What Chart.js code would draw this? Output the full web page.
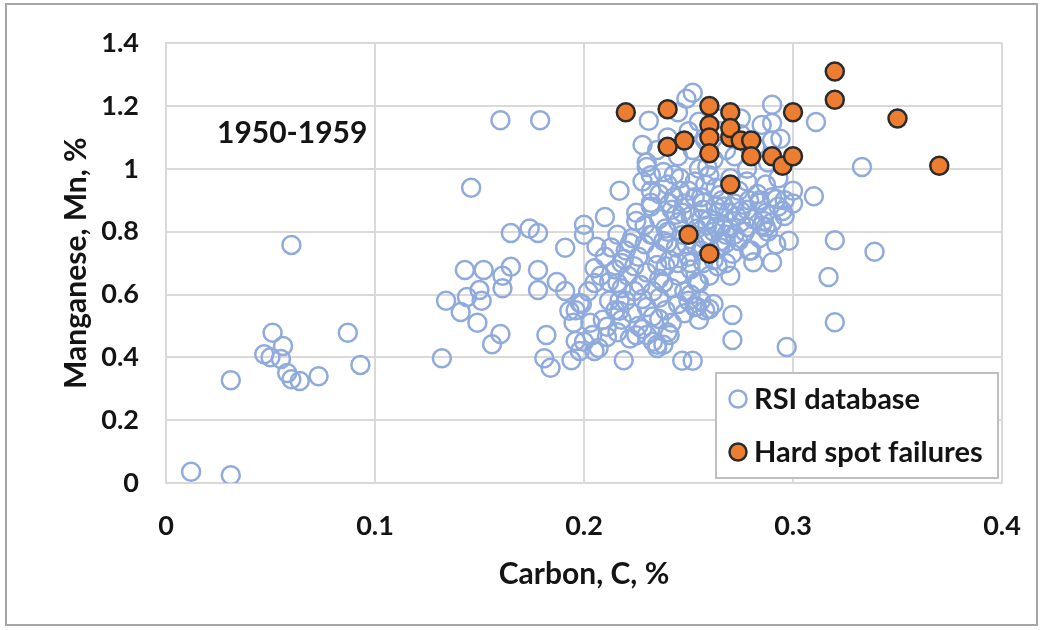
<!DOCTYPE html>
<html lang="en">
<head>
<meta charset="UTF-8">
<title>Manganese vs Carbon, 1950-1959</title>
<script src="https://cdn.jsdelivr.net/npm/chart.js"></script>
<style>
  body { margin: 0; background: #fff; }
</style>
</head>
<body>
<canvas id="mnChart" width="1043" height="630"></canvas>
<script>
const periodLabel = '1950-1959';
const seriesNames = ['RSI database', 'Hard spot failures'];
const xTickLabels = ['0', '0.1', '0.2', '0.3', '0.4'];
const yTickLabels = ['0', '0.2', '0.4', '0.6', '0.8', '1', '1.2', '1.4'];

// [carbon %, manganese %]
const hardSpotPoints = [
  [0.22, 1.18], [0.24, 1.19], [0.26, 1.20], [0.27, 1.18], [0.30, 1.18],
  [0.32, 1.31], [0.32, 1.22], [0.35, 1.16], [0.37, 1.01],
  [0.24, 1.07], [0.248, 1.09], [0.26, 1.14], [0.26, 1.10], [0.26, 1.05],
  [0.27, 1.10], [0.27, 1.13], [0.275, 1.09], [0.28, 1.09], [0.28, 1.04],
  [0.29, 1.04], [0.295, 1.01], [0.30, 1.04], [0.27, 0.95], [0.25, 0.79],
  [0.26, 0.73]
];

const rsiPoints = [
  // low carbon group
  [0.012, 0.036], [0.031, 0.025], [0.031, 0.327], [0.047, 0.41], [0.051, 0.478],
  [0.05, 0.40], [0.055, 0.395], [0.056, 0.436], [0.058, 0.35], [0.06, 0.33],
  [0.064, 0.325], [0.073, 0.34], [0.06, 0.758], [0.087, 0.478], [0.093, 0.376],
  // 0.13 - 0.2
  [0.132, 0.397], [0.134, 0.58], [0.141, 0.544], [0.143, 0.678], [0.144, 0.592],
  [0.146, 0.94], [0.15, 0.614], [0.152, 0.678], [0.151, 0.58], [0.149, 0.51],
  [0.156, 0.442], [0.16, 0.474], [0.16, 1.155], [0.161, 0.62], [0.161, 0.66],
  [0.165, 0.688], [0.165, 0.796], [0.174, 0.81], [0.178, 0.796], [0.179, 1.155],
  [0.178, 0.678], [0.178, 0.614], [0.182, 0.471], [0.181, 0.397], [0.184, 0.367],
  [0.187, 0.64], [0.191, 0.749], [0.191, 0.611], [0.194, 0.391], [0.193, 0.548],
  [0.195, 0.51], [0.196, 0.452], [0.198, 0.573],
  // 0.2 - 0.22
  [0.2, 0.822], [0.2, 0.79], [0.203, 0.51], [0.204, 0.471], [0.205, 0.42],
  [0.205, 0.684], [0.206, 0.752], [0.205, 0.637], [0.21, 0.847], [0.211, 0.497],
  [0.211, 0.465], [0.216, 0.637], [0.217, 0.93], [0.217, 0.58], [0.217, 0.548],
  [0.219, 0.391], [0.219, 0.713], [0.2, 0.45], [0.198, 0.42], [0.207, 0.43],
  [0.196, 0.55], [0.199, 0.57], [0.202, 0.61], [0.208, 0.66], [0.21, 0.72],
  [0.213, 0.75], [0.216, 0.79], [0.218, 0.70], [0.212, 0.58], [0.209, 0.52],
  // main cluster edges
  [0.222, 0.764], [0.224, 0.611], [0.225, 0.834], [0.228, 1.076], [0.228, 0.586],
  [0.23, 0.471], [0.231, 1.153], [0.23, 1.006], [0.232, 0.93], [0.232, 0.892],
  [0.233, 0.79], [0.235, 0.694], [0.236, 0.522], [0.235, 0.44], [0.238, 0.637],
  [0.24, 0.764], [0.241, 0.471], [0.243, 0.981], [0.244, 0.854], [0.246, 0.93],
  [0.247, 0.389], [0.252, 0.389], [0.252, 1.242], [0.249, 1.223], [0.251, 0.70],
  [0.254, 0.561], [0.255, 0.637], [0.257, 0.892], [0.26, 0.554], [0.259, 1.006],
  [0.263, 0.815], [0.265, 0.917], [0.268, 0.764], [0.271, 0.535], [0.271, 0.455],
  [0.275, 0.866], [0.278, 0.815], [0.279, 0.739], [0.281, 0.703], [0.284, 0.892],
  [0.286, 0.834], [0.287, 0.815], [0.29, 1.204], [0.29, 1.146], [0.29, 0.703],
  [0.292, 0.904], [0.294, 1.096], [0.295, 0.866], [0.297, 0.433], [0.298, 0.771],
  [0.30, 0.93], [0.311, 1.149], [0.31, 0.913], [0.317, 0.656], [0.32, 0.512],
  [0.32, 0.773], [0.333, 1.006], [0.339, 0.736],
  // dense core, Mn 1.0 - 1.2
  [0.23, 1.02], [0.235, 1.06], [0.24, 1.10], [0.245, 1.04], [0.25, 1.12],
  [0.252, 1.06], [0.255, 1.0], [0.258, 1.09], [0.262, 1.03], [0.265, 1.12],
  [0.268, 1.06], [0.272, 1.04], [0.275, 1.11], [0.278, 1.0], [0.282, 1.07],
  [0.288, 1.02], [0.29, 1.09], [0.265, 1.16], [0.255, 1.15], [0.245, 1.18],
  [0.285, 1.14], [0.275, 1.16],
  // Mn 0.9 - 1.0
  [0.228, 0.96], [0.232, 0.98], [0.236, 0.92], [0.24, 0.95], [0.243, 0.91],
  [0.246, 0.97], [0.25, 0.93], [0.253, 0.96], [0.256, 0.91], [0.26, 0.98],
  [0.263, 0.94], [0.266, 0.90], [0.27, 0.97], [0.274, 0.93], [0.278, 0.96],
  [0.283, 0.92], [0.287, 0.95], [0.29, 0.91], [0.293, 0.97], [0.296, 0.90],
  [0.238, 0.99], [0.258, 0.95],
  // Mn 0.8 - 0.9
  [0.225, 0.86], [0.229, 0.82], [0.232, 0.88], [0.236, 0.84], [0.239, 0.81],
  [0.242, 0.87], [0.245, 0.83], [0.248, 0.89], [0.251, 0.85], [0.254, 0.81],
  [0.257, 0.87], [0.26, 0.84], [0.263, 0.88], [0.266, 0.82], [0.269, 0.86],
  [0.272, 0.89], [0.275, 0.83], [0.278, 0.87], [0.281, 0.84], [0.284, 0.90],
  [0.287, 0.86], [0.29, 0.83], [0.293, 0.88], [0.296, 0.85], [0.30, 0.89],
  [0.262, 0.80], [0.27, 0.81],
  [0.247, 0.86], [0.253, 0.91], [0.259, 0.82], [0.267, 0.88], [0.273, 0.85],
  [0.279, 0.90], [0.285, 0.82], [0.241, 0.89], [0.256, 0.84], [0.264, 0.86],
  // Mn 0.7 - 0.8
  [0.22, 0.74], [0.223, 0.78], [0.226, 0.72], [0.229, 0.76], [0.232, 0.79],
  [0.235, 0.73], [0.238, 0.77], [0.241, 0.71], [0.244, 0.75], [0.247, 0.79],
  [0.25, 0.72], [0.253, 0.76], [0.256, 0.74], [0.259, 0.78], [0.262, 0.71],
  [0.265, 0.75], [0.268, 0.79], [0.271, 0.73], [0.274, 0.77], [0.277, 0.80],
  [0.28, 0.74], [0.284, 0.78], [0.288, 0.80], [0.292, 0.76], [0.24, 0.80],
  [0.245, 0.70], [0.249, 0.76], [0.257, 0.78], [0.266, 0.77], [0.272, 0.79],
  // Mn 0.6 - 0.7
  [0.212, 0.64], [0.215, 0.68], [0.218, 0.62], [0.221, 0.66], [0.224, 0.69],
  [0.227, 0.63], [0.23, 0.67], [0.233, 0.61], [0.236, 0.65], [0.239, 0.69],
  [0.242, 0.62], [0.245, 0.66], [0.248, 0.61], [0.251, 0.68], [0.254, 0.64],
  [0.257, 0.70], [0.26, 0.66], [0.264, 0.69], [0.268, 0.70], [0.27, 0.66],
  // Mn 0.4 - 0.6
  [0.215, 0.55], [0.218, 0.52], [0.22, 0.58], [0.223, 0.54], [0.226, 0.50],
  [0.23, 0.56], [0.233, 0.53], [0.236, 0.59], [0.239, 0.55], [0.242, 0.51],
  [0.245, 0.57], [0.248, 0.54], [0.251, 0.60], [0.253, 0.56], [0.256, 0.58],
  [0.258, 0.55], [0.262, 0.57], [0.255, 0.52], [0.25, 0.58],
  [0.216, 0.48], [0.222, 0.46], [0.228, 0.49], [0.233, 0.45], [0.235, 0.43],
  [0.24, 0.48], [0.238, 0.44], [0.225, 0.47]
];

const blue = 'rgb(143, 170, 220)';
const orange = '#ed7d31';
const gridColor = '#d9d9d9';
const textColor = '#141414';

Chart.defaults.font.family = 'Lato, "Open Sans", sans-serif';
Chart.defaults.color = textColor;

const toXY = pts => pts.map(p => ({ x: p[0], y: p[1] }));

// draws the outer frame, the period label and the boxed legend
const extras = {
  id: 'extras',
  afterDraw(chart) {
    const ctx = chart.ctx;
    const ca = chart.chartArea;
    ctx.save();

    ctx.strokeStyle = '#a6a6a6';
    ctx.lineWidth = 2;
    ctx.strokeRect(6, 4, 1031, 621);

    ctx.fillStyle = textColor;
    ctx.font = 'bold 30px Lato';
    ctx.textBaseline = 'middle';
    ctx.fillText(periodLabel, ca.left + 51, 133);

    const bw = 282, bh = 105;
    const bx = ca.right - 4 - bw, by = ca.bottom - 5 - bh;
    ctx.fillStyle = '#fff';
    ctx.fillRect(bx, by, bw, bh);
    ctx.strokeStyle = '#bfbfbf';
    ctx.strokeRect(bx, by, bw, bh);

    const rows = [by + 26, by + 79];
    ctx.font = 'bold 29px Lato';
    rows.forEach((ry, i) => {
      ctx.beginPath();
      ctx.arc(bx + 22, ry, 8.5, 0, Math.PI * 2);
      ctx.lineWidth = 2.5;
      if (i === 0) {
        ctx.strokeStyle = blue;
        ctx.stroke();
      } else {
        ctx.fillStyle = orange;
        ctx.fill();
        ctx.strokeStyle = '#2b2b2b';
        ctx.stroke();
      }
      ctx.fillStyle = textColor;
      ctx.fillText(seriesNames[i], bx + 38, ry + 1);
    });
    ctx.restore();
  }
};

new Chart(document.getElementById('mnChart'), {
  type: 'scatter',
  data: {
    datasets: [
      {
        label: seriesNames[0],
        data: toXY(rsiPoints),
        order: 1,
        pointStyle: 'circle',
        pointRadius: 9,
        pointBorderWidth: 2.5,
        borderColor: blue,
        backgroundColor: 'rgba(0,0,0,0)'
      },
      {
        label: seriesNames[1],
        data: toXY(hardSpotPoints),
        order: 0,
        pointStyle: 'circle',
        pointRadius: 9,
        pointBorderWidth: 2.5,
        borderColor: '#2b2b2b',
        backgroundColor: orange
      }
    ]
  },
  options: {
    responsive: false,
    animation: false,
    layout: { padding: { left: 0, top: 41, right: 41, bottom: 0 } },
    plugins: {
      legend: { display: false },
      tooltip: { enabled: false }
    },
    scales: {
      x: {
        type: 'linear',
        min: 0,
        max: 0.4,
        afterFit: s => {
          s.height = 147;
          s.paddingLeft = 0;
          s.paddingRight = 0;
        },
        ticks: {
          stepSize: 0.1,
          padding: 27,
          font: { size: 27, weight: 'bold' },
          color: textColor,
          callback: (v, i) => xTickLabels[i]
        },
        grid: { color: gridColor, lineWidth: 2, drawTicks: false },
        border: { color: gridColor, width: 2 },
        title: {
          display: true,
          text: 'Carbon, C, %',
          font: { size: 30, weight: 'bold' },
          color: textColor,
          padding: { top: 0, bottom: 38 }
        }
      },
      y: {
        min: 0,
        max: 1.4,
        afterFit: s => { s.width = 166; },
        ticks: {
          stepSize: 0.2,
          padding: 27,
          font: { size: 27, weight: 'bold' },
          color: textColor,
          callback: (v, i) => yTickLabels[i]
        },
        grid: { color: gridColor, lineWidth: 2, drawTicks: false },
        border: { color: gridColor, width: 2 },
        title: {
          display: true,
          text: 'Manganese, Mn, %',
          font: { size: 30, weight: 'bold' },
          color: textColor,
          padding: { top: 58, bottom: 0 }
        }
      }
    }
  },
  plugins: [extras]
});
</script>
</body>
</html>
